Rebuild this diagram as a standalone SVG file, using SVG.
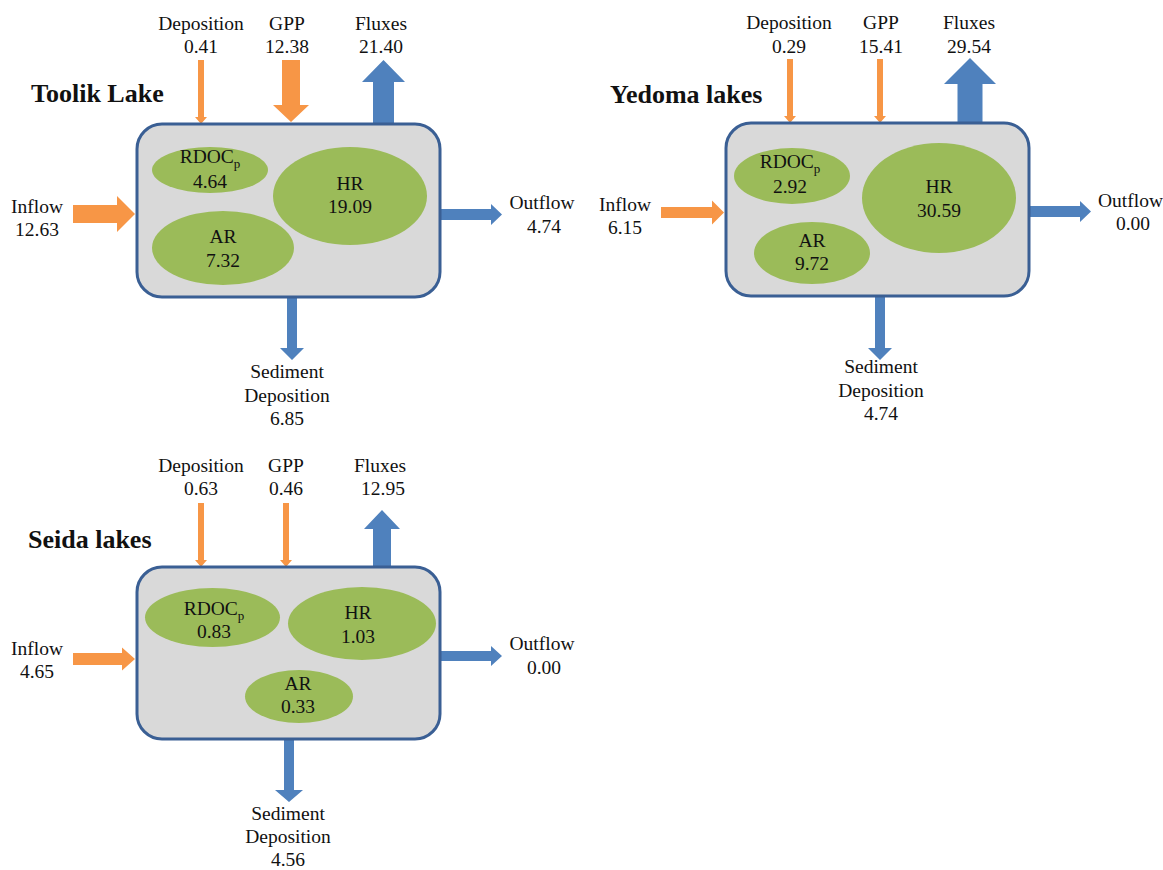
<svg xmlns="http://www.w3.org/2000/svg" width="1163" height="870" viewBox="0 0 1163 870">
<style>
text{font-family:"Liberation Serif","Times New Roman",serif;font-size:19.5px;fill:#111;text-anchor:middle}
.title{font-weight:bold;font-size:26px;text-anchor:start}
.sub{font-size:13px}
.box{fill:#D9D9D9;stroke:#3A5F94;stroke-width:3}
.pool{fill:#9BBB59}
.in{fill:#F79646}
.out{fill:#4F81BD}
</style>
<rect width="1163" height="870" fill="#fff"/>
<g id="connectors">
<!-- Toolik -->
<polygon class="in" points="198,60 204,60 204,117 207,117 201,124 195,117 198,117"/>
<polygon class="in" points="282,60 300,60 300,105 309,105 291,122 273,105 282,105"/>
<polygon class="out" points="373,124 394,124 394,82 405,82 383.5,60 362,82 373,82"/>
<polygon class="in" points="73,205 117,205 117,196 135,214 117,232 117,223 73,223"/>
<polygon class="out" points="440,209 491,209 491,204 502,214.5 491,225 491,220 440,220"/>
<polygon class="out" points="287,297 297,297 297,348 304,348 292,360 280,348 287,348"/>
<!-- Yedoma -->
<polygon class="in" points="787,59 793,59 793,116 796,116 790,123 784,116 787,116"/>
<polygon class="in" points="877,59 883,59 883,116 886,116 880,123 874,116 877,116"/>
<polygon class="out" points="957.5,123 982.5,123 982.5,84 996,84 970,58 944,84 957.5,84"/>
<polygon class="in" points="661,207 712,207 712,200.5 724,212.5 712,224.5 712,218 661,218"/>
<polygon class="out" points="1029,206 1080,206 1080,201 1091,211.5 1080,222 1080,217 1029,217"/>
<polygon class="out" points="875,296 885,296 885,348 892,348 880,360 868,348 875,348"/>
<!-- Seida -->
<polygon class="in" points="198,503 204,503 204,560 207,560 201,567 195,560 198,560"/>
<polygon class="in" points="283,503 289,503 289,560 292,560 286,567 280,560 283,560"/>
<polygon class="out" points="373,567 391,567 391,529 400,529 382,510 364,529 373,529"/>
<polygon class="in" points="73,653 122,653 122,647.5 135,659 122,670.5 122,665 73,665"/>
<polygon class="out" points="440,651 491,651 491,646 502,656 491,666 491,661 440,661"/>
<polygon class="out" points="284,739 294,739 294,790 303,790 289,802 275,790 284,790"/>
</g>
<g id="toolik">
<text class="title" x="31" y="102">Toolik Lake</text>
<rect class="box" x="137" y="124" width="303" height="173" rx="25"/>
<g id="toolik-rdoc"><ellipse class="pool" cx="210" cy="170" rx="58" ry="23"/><text x="210" y="163">RDOC<tspan class="sub" dy="5">p</tspan></text><text x="210" y="188">4.64</text></g>
<g id="toolik-hr"><ellipse class="pool" cx="350" cy="196" rx="77" ry="49"/><text x="350" y="190">HR</text><text x="350" y="213">19.09</text></g>
<g id="toolik-ar"><ellipse class="pool" cx="223" cy="248" rx="71" ry="37"/><text x="223" y="243">AR</text><text x="223" y="267">7.32</text></g>
<g id="toolik-labels">
<text x="201" y="30">Deposition</text><text x="201" y="53">0.41</text>
<text x="287" y="30">GPP</text><text x="287" y="53">12.38</text>
<text x="381" y="30">Fluxes</text><text x="381" y="53">21.40</text>
<text x="37" y="213">Inflow</text><text x="37" y="236">12.63</text>
<text x="542" y="209">Outflow</text><text x="544" y="233">4.74</text>
<text x="287" y="378">Sediment</text><text x="287" y="402">Deposition</text><text x="287" y="425">6.85</text>
</g>
</g>
<g id="yedoma">
<text class="title" x="610" y="103">Yedoma lakes</text>
<rect class="box" x="726" y="123" width="303" height="173" rx="25"/>
<g id="yedoma-rdoc"><ellipse class="pool" cx="792" cy="176" rx="58" ry="28"/><text x="790" y="168">RDOC<tspan class="sub" dy="5">p</tspan></text><text x="790" y="193">2.92</text></g>
<g id="yedoma-hr"><ellipse class="pool" cx="939" cy="198" rx="77" ry="55"/><text x="939" y="193">HR</text><text x="939" y="217">30.59</text></g>
<g id="yedoma-ar"><ellipse class="pool" cx="812" cy="253" rx="58" ry="31"/><text x="812" y="247">AR</text><text x="812" y="270">9.72</text></g>
<g id="yedoma-labels">
<text x="789" y="29">Deposition</text><text x="789" y="53">0.29</text>
<text x="881" y="29">GPP</text><text x="881" y="53">15.41</text>
<text x="969" y="29">Fluxes</text><text x="969" y="53">29.54</text>
<text x="625" y="211">Inflow</text><text x="625" y="234">6.15</text>
<text x="1098" y="207" style="text-anchor:start">Outflow</text><text x="1133" y="230">0.00</text>
<text x="881" y="373">Sediment</text><text x="881" y="397">Deposition</text><text x="881" y="420">4.74</text>
</g>
</g>
<g id="seida">
<text class="title" x="28" y="548">Seida lakes</text>
<rect class="box" x="137" y="567" width="303" height="172" rx="25"/>
<g id="seida-rdoc"><ellipse class="pool" cx="212.5" cy="617.5" rx="67.5" ry="29.5"/><text x="214" y="615">RDOC<tspan class="sub" dy="5">p</tspan></text><text x="214" y="638">0.83</text></g>
<g id="seida-hr"><ellipse class="pool" cx="362" cy="623.5" rx="74" ry="36.5"/><text x="358" y="619">HR</text><text x="358" y="643">1.03</text></g>
<g id="seida-ar"><ellipse class="pool" cx="299" cy="696.5" rx="54" ry="26.5"/><text x="298" y="690">AR</text><text x="298" y="713">0.33</text></g>
<g id="seida-labels">
<text x="201" y="472">Deposition</text><text x="201" y="495">0.63</text>
<text x="286" y="472">GPP</text><text x="286" y="495">0.46</text>
<text x="380" y="472">Fluxes</text><text x="383" y="495">12.95</text>
<text x="37" y="655">Inflow</text><text x="37" y="678">4.65</text>
<text x="542" y="650">Outflow</text><text x="544" y="674">0.00</text>
<text x="288" y="820">Sediment</text><text x="288" y="843">Deposition</text><text x="288" y="866">4.56</text>
</g>
</g>
</svg>
